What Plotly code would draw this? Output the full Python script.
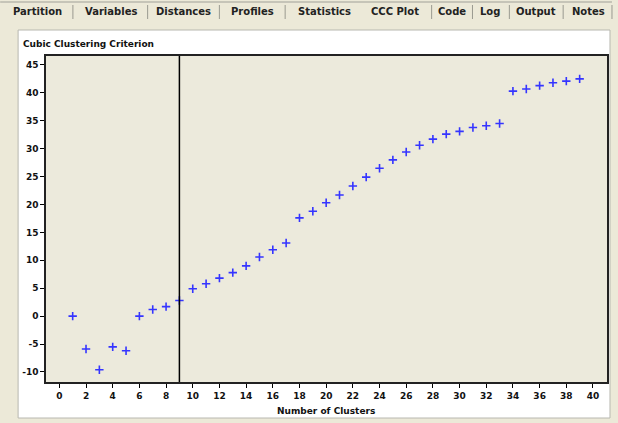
import plotly.graph_objects as go

# ---- data ----
clusters = list(range(1, 40))
ccc = [0.0, -5.9, -9.6, -5.5, -6.2, 0.0, 1.2, 1.7, 2.8, 4.9,
       5.8, 6.8, 7.8, 9.0, 10.6, 11.9, 13.1, 17.6, 18.8, 20.3,
       21.7, 23.3, 24.9, 26.5, 28.0, 29.4, 30.6, 31.7, 32.6, 33.1,
       33.8, 34.1, 34.5, 40.3, 40.7, 41.3, 41.8, 42.1, 42.5]
chosen_k = 9
tabs = ["Partition", "Variables", "Distances", "Profiles", "Statistics",
        "CCC Plot", "Code", "Log", "Output", "Notes"]
tab_x = [37, 111, 184, 253, 325, 396, 453, 492, 538, 590]
tab_seps = [73, 148, 220, 286, 433, 474, 511, 565, 614]

W, H = 618, 423
L, R, T, B = 46, 609, 56, 382
PW, PH = R - L, B - T

def px(x):
    return (x - L) / PW

def py(y):
    return (B - y) / PH

FONT = "DejaVu Sans"
bg = "#ECE9D8"

fig = go.Figure()
fig.add_trace(go.Scatter(
    x=clusters, y=ccc, mode="markers",
    marker=dict(symbol="cross-thin", size=6,
                line=dict(color="#3535ff", width=1.6)),
    hoverinfo="skip", showlegend=False))

shapes = [
    # white panel
    dict(type="rect", xref="paper", yref="paper", x0=px(18), x1=px(612),
         y0=py(418), y1=py(30), fillcolor="white",
         line=dict(color="#b8b8b0", width=1), layer="below"),
    # plot area background
    dict(type="rect", xref="paper", yref="paper", x0=0, x1=1, y0=0, y1=1,
         fillcolor="#ECEADC", line=dict(width=0), layer="below"),
    # top line of the tab strip
    dict(type="line", xref="paper", yref="paper", x0=px(0), x1=px(614),
         y0=py(2), y1=py(2), line=dict(color="#a0a098", width=1)),
    # chosen number of clusters
    dict(type="line", xref="x", yref="paper", x0=chosen_k, x1=chosen_k,
         y0=0, y1=1, line=dict(color="black", width=1.5)),
]
for s in tab_seps:
    shapes.append(dict(type="line", xref="paper", yref="paper",
                       x0=px(s), x1=px(s), y0=py(19), y1=py(5),
                       line=dict(color="#9a9a90", width=1)))

annotations = []
for t, x in zip(tabs, tab_x):
    annotations.append(dict(text="<b>" + t + "</b>", x=px(x), y=py(12),
                            xref="paper", yref="paper", showarrow=False,
                            xanchor="center", yanchor="middle",
                            font=dict(family=FONT, size=10, color="#222")))
annotations.append(dict(text="<b>Cubic Clustering Criterion</b>", x=px(21),
                        y=py(44), xref="paper", yref="paper", showarrow=False,
                        xanchor="left", yanchor="middle",
                        font=dict(family=FONT, size=9, color="#111")))
annotations.append(dict(text="<b>Number of Clusters</b>", x=px(327),
                        y=py(411), xref="paper", yref="paper", showarrow=False,
                        xanchor="center", yanchor="middle",
                        font=dict(family=FONT, size=9, color="#111")))

fig.update_layout(
    width=W, height=H,
    margin=dict(l=L, r=W - R, t=T, b=H - B),
    paper_bgcolor=bg, plot_bgcolor="rgba(0,0,0,0)",
    shapes=shapes, annotations=annotations,
    font=dict(family=FONT, size=9, color="#111"),
)
fig.update_xaxes(range=[-1, 41.05], tickmode="array",
                 tickvals=list(range(0, 41, 2)),
                 ticktext=["<b>%d</b>" % v for v in range(0, 41, 2)],
                 ticks="outside", ticklen=4, tickwidth=1, tickcolor="black",
                 showgrid=False, zeroline=False, showline=True, mirror=True,
                 linecolor="#222", linewidth=1.5)
fig.update_yaxes(range=[-11.8, 46.6], tickmode="array",
                 tickvals=list(range(-10, 46, 5)),
                 ticktext=["<b>%d</b>" % v for v in range(-10, 46, 5)],
                 ticks="outside", ticklen=4, tickwidth=1, tickcolor="black",
                 showgrid=False, zeroline=False, showline=True, mirror=True,
                 linecolor="#222", linewidth=1.5)

fig.write_html("out.html")
